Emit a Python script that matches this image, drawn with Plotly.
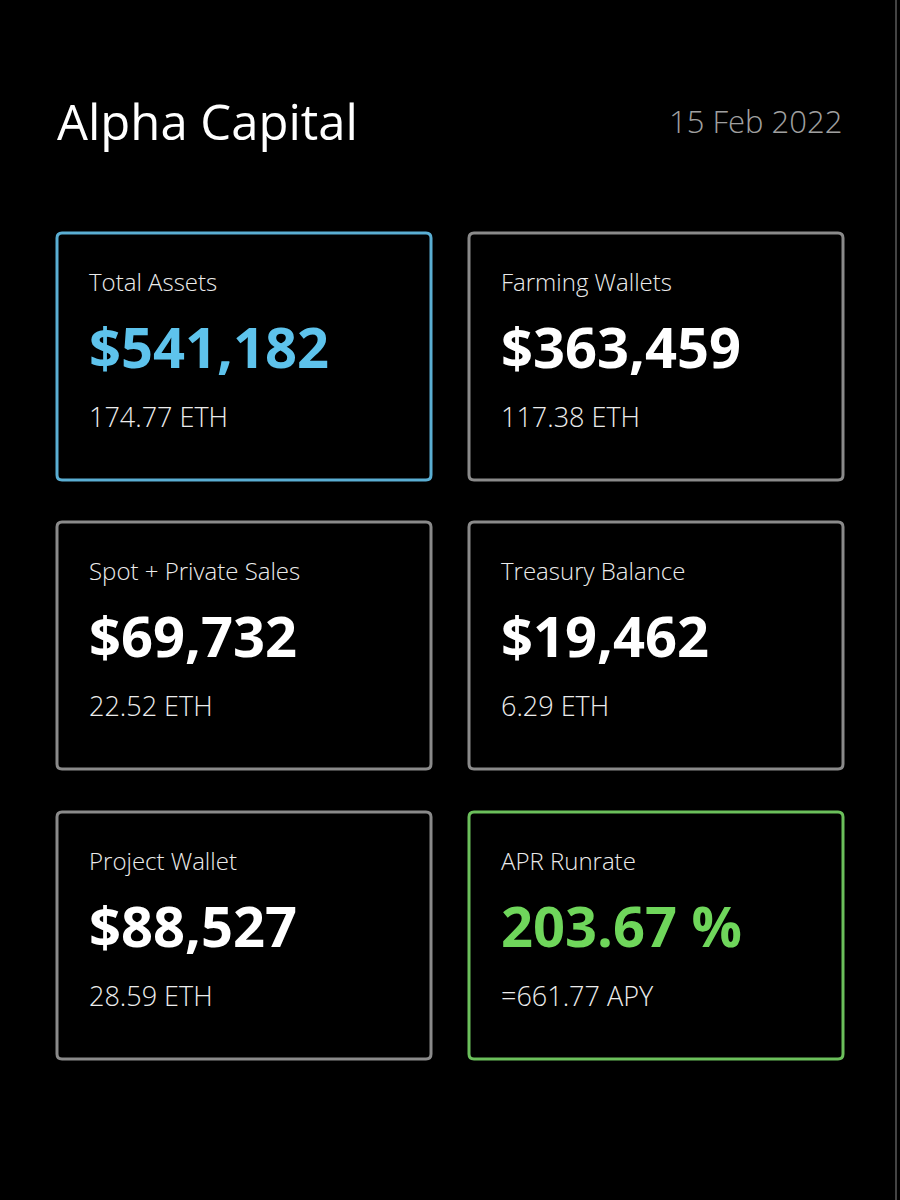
import plotly.graph_objects as go

title = "Alpha Capital"
date_label = "15 Feb 2022"

labels = ["Total Assets", "Farming Wallets", "Spot + Private Sales",
          "Treasury Balance", "Project Wallet", "APR Runrate"]
values = ["$541,182", "$363,459", "$69,732", "$19,462", "$88,527", "203.67 %"]
subtexts = ["174.77 ETH", "117.38 ETH", "22.52 ETH", "6.29 ETH",
            "28.59 ETH", "=661.77 APY"]
accents = ["blue", None, None, None, None, "green"]

accent_colors = {"blue": ("#5aaed3", "#5ec3ec"), "green": ("#6bbf5b", "#6fd65b")}
GREY_BORDER = "#8a8a8a"
FONT = "Open Sans"


def rounded_rect(x0, y0, x1, y1, r=5):
    return (f"M {x0+r},{y0} L {x1-r},{y0} Q {x1},{y0} {x1},{y0+r} "
            f"L {x1},{y1-r} Q {x1},{y1} {x1-r},{y1} L {x0+r},{y1} "
            f"Q {x0},{y1} {x0},{y1-r} L {x0},{y0+r} Q {x0},{y0} {x0+r},{y0} Z")


fig = go.Figure()
shapes = []
annotations = []

# header
annotations.append(dict(x=55, y=121, text=title, xanchor="left", yanchor="middle",
                        showarrow=False, font=dict(family=FONT, size=49, color="#ffffff")))
annotations.append(dict(x=844, y=121, text=date_label, xanchor="right", yanchor="middle",
                        showarrow=False,
                        font=dict(family=FONT, size=31, color="#a0a0a0", weight=300)))

card_w, card_h = 374, 247
col_x = [57, 469]
row_y = [233, 522, 812]

for i, lab in enumerate(labels):
    x0 = col_x[i % 2]
    y0 = row_y[i // 2]
    acc = accents[i]
    border, val_color = accent_colors[acc] if acc else (GREY_BORDER, "#ffffff")
    shapes.append(dict(type="path", path=rounded_rect(x0, y0, x0 + card_w, y0 + card_h),
                       line=dict(color=border, width=3), fillcolor="#000000",
                       xref="x", yref="y"))
    annotations.append(dict(x=x0 + 30, y=y0 + 48, text=lab, xanchor="left", yanchor="middle",
                            showarrow=False,
                            font=dict(family=FONT, size=24, color="#ececec", weight=300)))
    annotations.append(dict(x=x0 + 30, y=y0 + 113, text=values[i], xanchor="left",
                            yanchor="middle", showarrow=False,
                            font=dict(family=FONT, size=56, color=val_color, weight=700)))
    annotations.append(dict(x=x0 + 30, y=y0 + 183, text=subtexts[i], xanchor="left",
                            yanchor="middle", showarrow=False,
                            font=dict(family=FONT, size=27, color="#ececec", weight=300)))

# thin edge at the right side of the page
shapes.append(dict(type="line", x0=896, x1=896, y0=0, y1=1200,
                   line=dict(color="#5a5a5a", width=1.5), xref="x", yref="y"))

fig.update_layout(
    width=900, height=1200,
    margin=dict(l=0, r=0, t=0, b=0),
    paper_bgcolor="#000000", plot_bgcolor="#000000",
    xaxis=dict(range=[0, 900], visible=False, fixedrange=True),
    yaxis=dict(range=[1200, 0], visible=False, fixedrange=True),
    shapes=shapes, annotations=annotations,
    showlegend=False,
)

fig.write_html("out.html", config={"displayModeBar": False},
               post_script="document.body.style.margin='0';"
                           "document.body.style.background='#000';")
